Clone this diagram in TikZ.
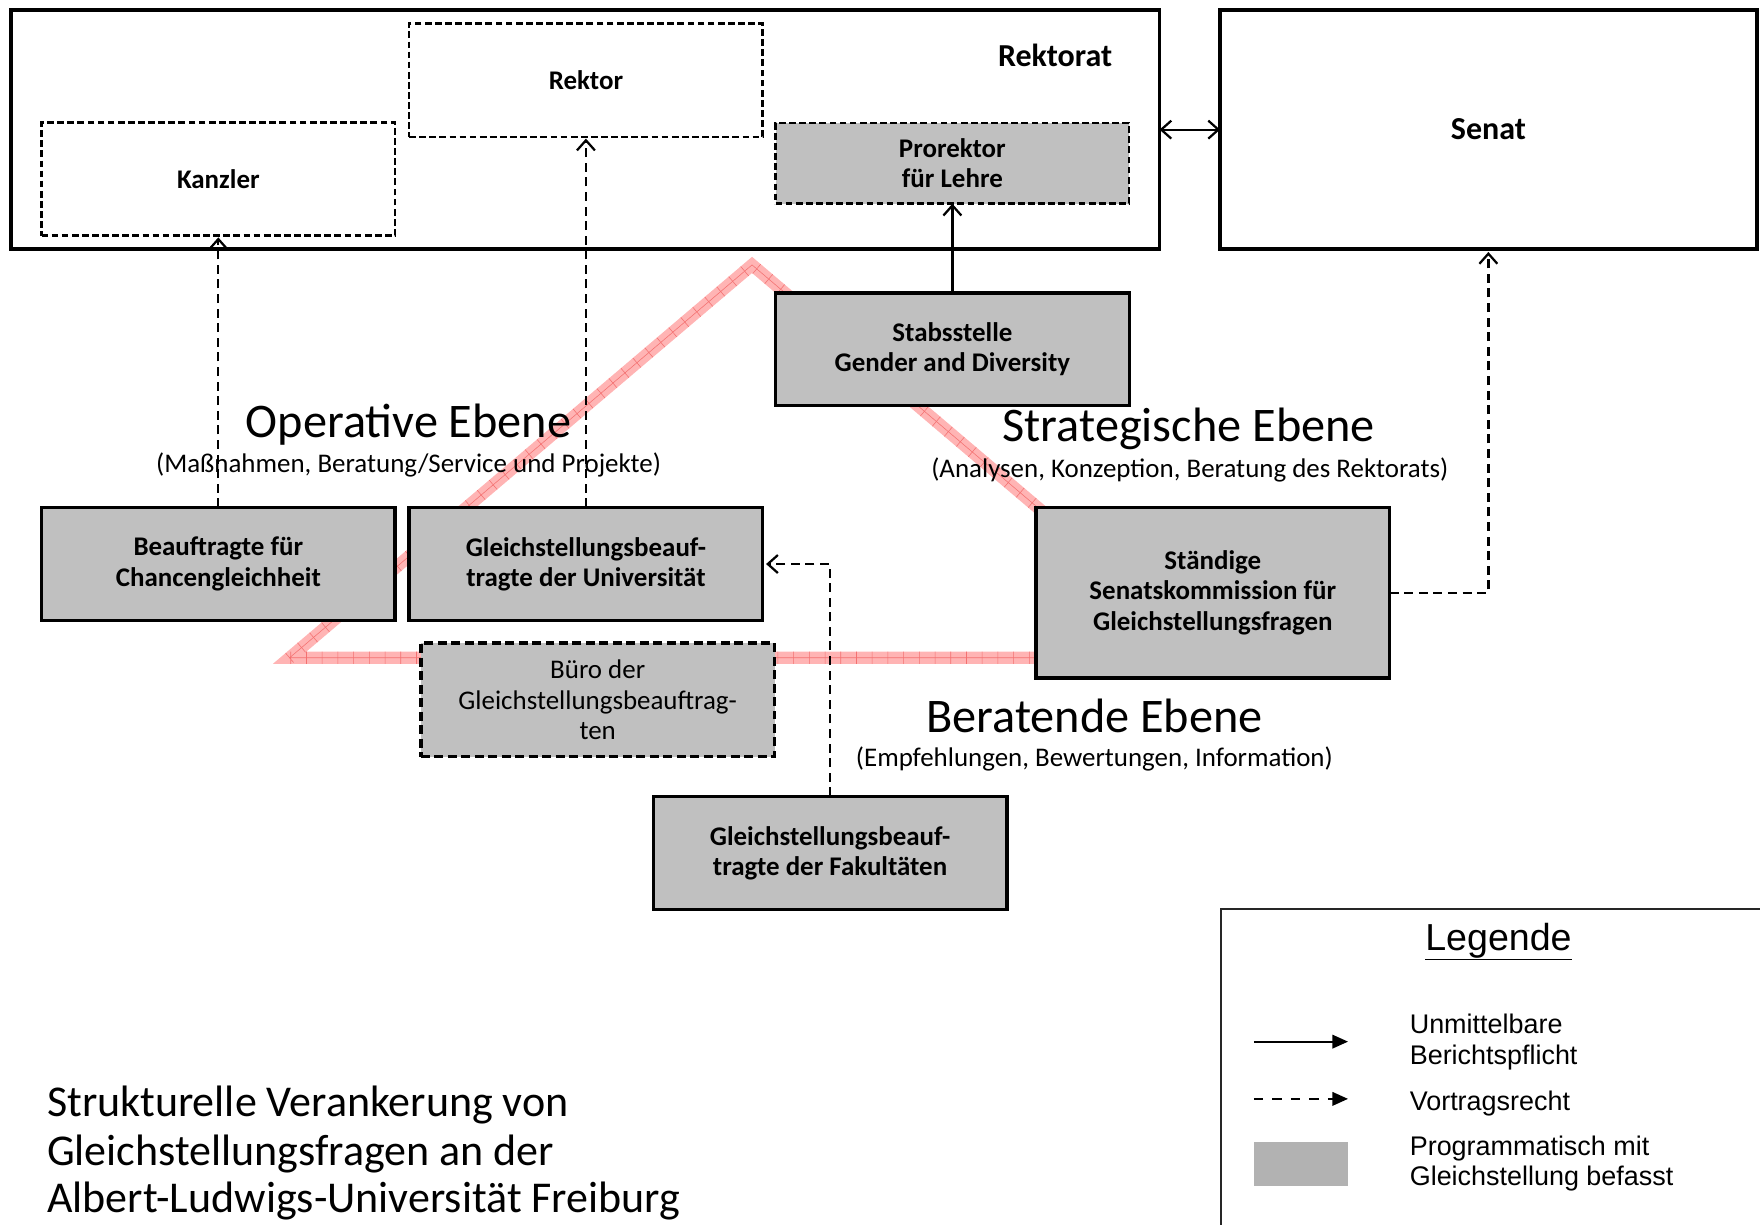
\documentclass[tikz,border=0pt]{standalone}
\usepackage{fontspec}
\setmainfont{Carlito}
\newfontfamily\arialf{Liberation Sans}
\usetikzlibrary{arrows.meta,decorations.pathreplacing}
\definecolor{boxgray}{RGB}{192,192,192}
\definecolor{leggray}{RGB}{178,178,178}
\definecolor{bandpink}{RGB}{255,180,180}
\definecolor{bandred}{RGB}{244,112,112}
\pgfdeclarelayer{background}
\pgfsetlayers{background,main}
\begin{document}
\begin{tikzpicture}[x=1pt,y=-1pt,
  every node/.style={inner sep=0pt, outer sep=0pt},
  boxtxt/.style={font=\fontsize{24}{27}\selectfont\bfseries, align=center},
  solidbox/.style={draw, line width=3pt, fill=boxgray, boxtxt, minimum width=315pt, minimum height=101pt,
    execute at begin node={\rule{0pt}{21.5pt}}},
  dashbox/.style={draw, line width=2.3pt, dash pattern=on 6pt off 3pt, boxtxt, minimum width=315pt},
  bigbox/.style={draw, line width=3.5pt},
  conn/.style={line width=2pt, dash pattern=on 8pt off 5pt},
  barb/.style={-{Straight Barb[length=9pt,width=16pt,line width=2pt]}},
  level/.style={font=\fontsize{43}{48}\selectfont},
  sublevel/.style={font=\fontsize{24}{27}\selectfont},
  titletxt/.style={font=\fontsize{39.2}{43}\selectfont, anchor=base west},
  legtxt/.style={font=\arialf\fontsize{24}{27}\selectfont, anchor=base west},
]
\useasboundingbox (0,0) rectangle (1568,1091);
\clip (0,0) rectangle (1568,1091);

% --- Rektorat and Senat ---
\node[bigbox, minimum width=1023pt, minimum height=213pt] (rektorat) at (521.5,115.5) {};
\node[font=\fontsize{28.5}{34}\selectfont\bfseries] (rektoratlbl) at (940,49) {Rektorat};
\node[bigbox, minimum width=478pt, minimum height=213pt, font=\fontsize{28.5}{34}\selectfont\bfseries] (senat) at (1326,115) {Senat};

\node[dashbox, fill=white, minimum height=101pt] (kanzler) at (194.5,159.5) {Kanzler};
\node[dashbox, fill=white, minimum height=101pt] (rektor) at (522,71.5) {Rektor};
\node[dashbox, fill=boxgray, minimum height=72pt] (prorektor) at (848.5,145.5) {Prorektor\\für Lehre};

% --- other units ---
\node[solidbox, minimum height=100pt] (stab) at (848.5,311) {Stabsstelle\\Gender and Diversity};
\node[solidbox] (beauftragte) at (194.5,502.5) {Beauftragte für\\Chancengleichheit};
\node[solidbox] (gleichuni) at (522,502.5) {Gleichstellungsbeauf-\\tragte der Universität};
\node[solidbox, minimum height=152pt] (staendige) at (1080.5,528) {Ständige\\Senatskommission für\\Gleichstellungsfragen};
\node[draw, line width=3pt, dash pattern=on 8pt off 4pt, fill=boxgray, minimum width=315pt, minimum height=101pt,
      font=\fontsize{24}{27}\selectfont, align=center] (buero) at (532.5,623.5) {Büro der\\Gleichstellungsbeauftrag-\\ten};
\node[solidbox] (fak) at (739.5,760) {Gleichstellungsbeauf-\\tragte der Fakultäten};

% --- level labels ---
\node[level] (operative) at (364,378) {Operative Ebene};
\node[sublevel] (opsub) at (364,414) {(Maßnahmen, Beratung/Service und Projekte)};
\node[level] (strat) at (1059,382) {Strategische Ebene};
\node[sublevel] (stratsub) at (1060,419) {(Analysen, Konzeption, Beratung des Rektorats)};
\node[level] (berat) at (975,638) {Beratende Ebene};
\node[sublevel] (beratsub) at (975,676) {(Empfehlungen, Bewertungen, Information)};

% --- connectors ---
\draw[line width=2pt, {Straight Barb[length=9pt,width=16pt,line width=2pt]}-{Straight Barb[length=9pt,width=16pt,line width=2pt]}]
  (rektorat.east) -- (rektorat.east -| senat.west);
\draw[conn, barb, shorten >=1.5pt] (beauftragte.north) -- (kanzler.south);
\draw[conn, barb, shorten >=1.5pt] (gleichuni.north) -- (rektor.south);
\draw[line width=2pt, barb] (stab.north) -- (prorektor.south);
\draw[conn, barb, shorten >=3pt] (staendige.east) -| (senat.south);
\draw[conn, barb, shorten >=3pt] (fak.north) |- (gleichuni.east);

% --- band (background) ---
\begin{pgfonlayer}{background}
\draw[bandpink, line width=11pt, line join=miter] (258,586) -- (670,236) -- (1082,586) -- cycle;
\draw[bandred, line width=0.5pt] (258,586) -- (670,236) -- (1082,586) -- cycle;
\draw[bandred, line width=0.5pt, decorate, decoration={ticks, segment length=14pt, amplitude=5.5pt}]
  (258,586) -- (670,236) -- (1082,586) -- cycle;
\end{pgfonlayer}

% --- title ---
\node[titletxt] (title1) at (42,995) {Strukturelle Verankerung von};
\node[titletxt] (title2) at (42,1038) {Gleichstellungsfragen an der};
\node[titletxt] (title3) at (42,1080) {Albert-Ludwigs-Universität Freiburg};

% --- legend ---
\node[draw, line width=1.5pt, draw=black!85, minimum width=520pt, minimum height=320pt, anchor=north west] (legendbox) at (1088,810) {};
\node[font=\arialf\fontsize{33.5}{40}\selectfont] (legtitle) at (1335,839) {\underline{Legende}};
\coordinate (l1a) at (1117,928);
\coordinate (l1b) at (1201,928);
\draw[line width=2pt, -{Triangle[length=14pt,width=12pt]}] (l1a) -- (l1b);
\coordinate (l2a) at (1117,979);
\coordinate (l2b) at (1201,979);
\draw[line width=2pt, dash pattern=on 8.5pt off 8pt, -{Triangle[length=14pt,width=12pt]}] (l2a) -- (l2b);
\node[fill=leggray, minimum width=84pt, minimum height=40pt] (legrect) at (1159,1037) {};
\node[legtxt] (leg1a) at (1256,921) {Unmittelbare};
\node[legtxt] (leg1b) at (1256,948) {Berichtspflicht};
\node[legtxt] (leg2) at (1256,989) {Vortragsrecht};
\node[legtxt] (leg3a) at (1256,1029) {Programmatisch mit};
\node[legtxt] (leg3b) at (1256,1056) {Gleichstellung befasst};
\end{tikzpicture}
\end{document}
